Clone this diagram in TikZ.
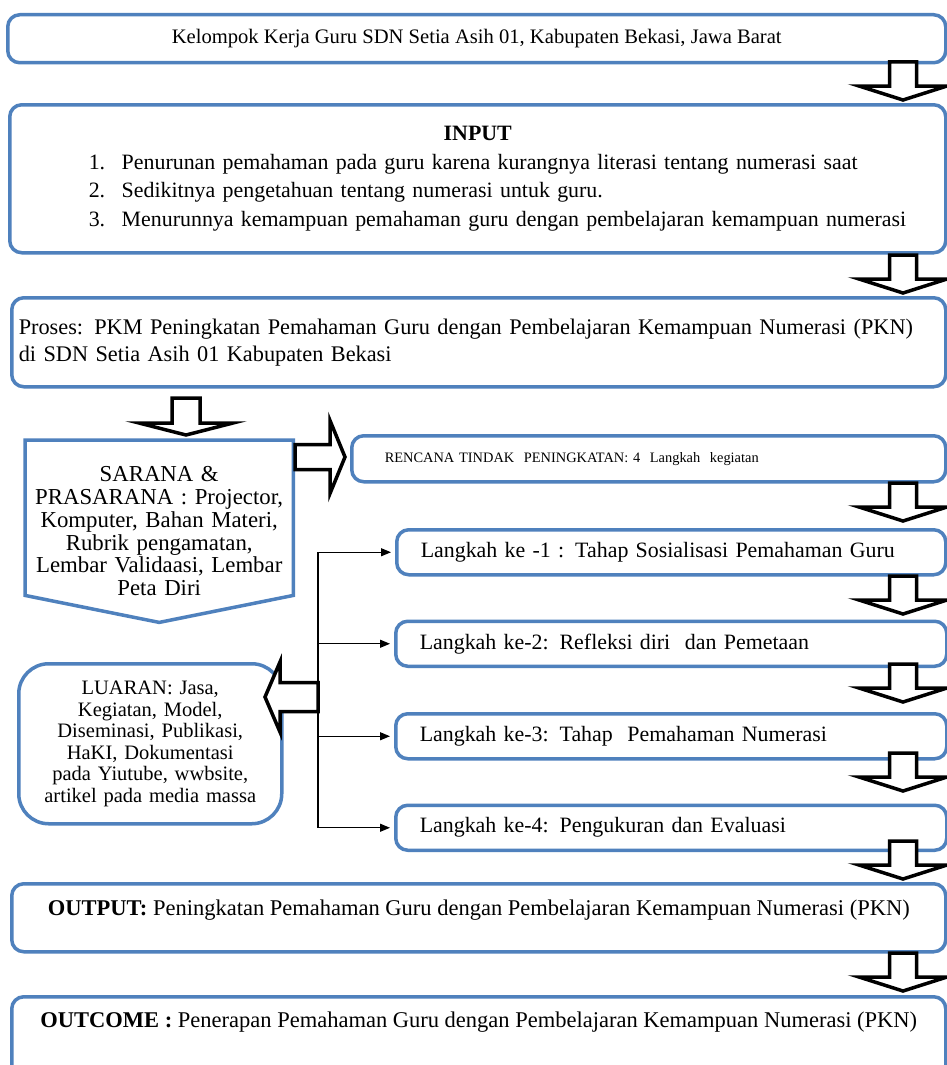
\documentclass[tikz,border=0pt]{standalone}
\usepackage{fontspec}
\setmainfont{Liberation Serif}
\usetikzlibrary{
  arrows.meta, % for the Triangle tips of the thin connections
  positioning, % for stacking the Langkah boxes
  calc, % for the pointed SARANA box
}
\definecolor{boxblue}{RGB}{79,129,189}
\tikzset{
  box/.style={ % style for the blue boxes
    rectangle,draw=boxblue,line width=3.5pt, % thick blue border
    rounded corners=12pt,
    fill=white,
    inner sep=0pt, % sizes are given by minimum width/height
    anchor=north west, % boxes are placed by their top left corner
  },
  stepbox/.style={ % style for the four Langkah boxes
    box,
    minimum width=551pt,minimum height=45pt,
    text width=503pt,inner xsep=24pt,align=left,
    font=\fontsize{21.9}{26}\selectfont,
  },
  arrowline/.style={ % outline of the white block arrows
    draw=black,line width=3.5pt,fill=white,line join=miter,
  },
  % block arrow pointing along x: half shaft, half head, shaft length, head length
  pics/blockarrow/.style n args={4}{code={
    \draw[arrowline] (0,-#1) -- (#3,-#1) -- (#3,-#2) -- (#3+#4,0)
      -- (#3,#2) -- (#3,#1) -- (0,#1) -- cycle;
  }},
  conn/.style={ % style for the thin connections
    -{Triangle[length=10pt,width=8pt]},
    line width=1.2pt,
    shorten >=4pt,
  },
}

\begin{document}
\begin{tikzpicture}[x=1pt,y=-1pt]
  \clip (0,0) rectangle (947,1065);
  \fill[white] (0,0) rectangle (947,1065);

  \node[box,minimum width=938pt,minimum height=48pt,
    font=\fontsize{20.6}{24}\selectfont] (kel) at (6,13)
  {Kelompok Kerja Guru SDN Setia Asih 01, Kabupaten Bekasi, Jawa Barat};

  \node[box,minimum width=936pt,minimum height=148pt,
    text width=900pt,inner xsep=18pt,align=left,
    font=\fontsize{21.9}{28.5}\selectfont] (inp) at (8,103)
  {\makebox[900pt]{\textbf{INPUT}}\\
   \hspace*{61pt}\makebox[33pt][l]{1.}Penurunan pemahaman pada guru karena kurangnya literasi tentang numerasi saat\\
   \hspace*{61pt}\makebox[33pt][l]{2.}Sedikitnya pengetahuan tentang numerasi untuk guru.\\
   \hspace*{61pt}\makebox[33pt][l]{3.}\mbox{Menurunnya kemampuan pemahaman guru dengan pembelajaran kemampuan numerasi}};

  \node[box,minimum width=934pt,minimum height=89pt,
    text width=920pt,inner xsep=7pt,align=left,
    font=\fontsize{22.3}{27}\selectfont] (pro) at (10,296)
  {\mbox{Proses: PKM Peningkatan Pemahaman Guru dengan Pembelajaran Kemampuan Numerasi (PKN)}\\
   di SDN Setia Asih 01 Kabupaten Bekasi};

  % pointed box for the SARANA & PRASARANA
  \node[anchor=north west,minimum width=268pt,minimum height=182pt,
    text width=260pt,inner sep=0pt,align=center,
    font=\fontsize{22.8}{22.8}\selectfont] (sar) at (25,440)
  {SARANA \&\\ PRASARANA : Projector,\\ Komputer, Bahan Materi,\\
   Rubrik pengamatan,\\ Lembar Validaasi, Lembar\\ Peta Diri};
  \draw[boxblue,line width=3.5pt,line join=miter]
    (sar.north west) -- (sar.north east) -- ($(sar.south east)+(0,-27)$)
    -- (sar.south) -- ($(sar.south west)+(0,-27)$) -- cycle;

  \node[box,minimum width=594pt,minimum height=46pt,
    text width=528pt,inner xsep=33pt,align=left,
    font=\fontsize{14.4}{17}\selectfont] (ren) at (350,434)
  {RENCANA TINDAK\ \ PENINGKATAN: 4\ \ Langkah\ \ kegiatan};

  \node[stepbox,minimum width=549pt,text width=501pt] (l1) at (395,528)
  {Langkah ke -1 : Tahap Sosialisasi Pemahaman Guru};
  \node[stepbox,below=43pt of l1] (l2)
  {Langkah ke-2: Refleksi diri\ \ dan Pemetaan};
  \node[stepbox,below=44pt of l2] (l3)
  {Langkah ke-3: Tahap\ \ Pemahaman Numerasi};
  \node[stepbox,below=43pt of l3] (l4)
  {Langkah ke-4: Pengukuran dan Evaluasi};

  \node[box,rounded corners=30pt,minimum width=263pt,minimum height=160pt,
    text width=250pt,align=center,
    font=\fontsize{20.5}{21.5}\selectfont] (lua) at (17,662)
  {LUARAN: Jasa,\\ Kegiatan, Model,\\ Diseminasi, Publikasi,\\
   HaKI, Dokumentasi\\ pada Yiutube, wwbsite,\\ artikel pada media massa};

  \node[box,minimum width=934pt,minimum height=68pt,text depth=21pt,
    font=\fontsize{22.5}{27}\selectfont] (out) at (10,882)
  {\textbf{OUTPUT:} Peningkatan Pemahaman Guru dengan Pembelajaran Kemampuan Numerasi (PKN)};

  \node[box,minimum width=934pt,minimum height=85pt,text depth=40pt,
    font=\fontsize{22.5}{27}\selectfont] (outc) at (10,995)
  {\textbf{OUTCOME :} Penerapan Pemahaman Guru dengan Pembelajaran Kemampuan Numerasi (PKN)};

  % block arrows
  \pic[rotate=-90] (a1) at (903,62) {blockarrow={13.5}{44}{24}{14}};
  \pic[rotate=-90] (a2) at (903,255) {blockarrow={13.5}{44}{24}{14}};
  \pic[rotate=-90] (a3) at (186,398) {blockarrow={14}{47}{25}{12}};
  \pic (a4) at (295,457) {blockarrow={12.5}{36.5}{35}{15}};
  \pic[rotate=-90] (a5) at (903,483) {blockarrow={13.5}{44}{24}{14}};
  \pic[rotate=-90] (a6) at (903,576) {blockarrow={13.5}{44}{24}{14}};
  \pic[rotate=-90] (a7) at (903,664) {blockarrow={13.5}{44}{24}{14}};
  \pic[rotate=-90] (a8) at (903,753) {blockarrow={13.5}{44}{24}{14}};
  \pic[rotate=-90] (a9) at (903,841) {blockarrow={13.5}{44}{24}{14}};
  \pic[rotate=-90] (a10) at (903,953) {blockarrow={13.5}{44}{24}{14}};

  % bus from the Langkah boxes
  \coordinate (bus) at (318,697);
  \draw[line width=1.2pt] (bus |- l1.west) -- (bus |- l4.west);
  \foreach \n in {l1,l2,l3,l4}
    \draw[conn] (bus |- \n.west) -- (\n.west);
  \pic[rotate=180] (a11) at (bus) {blockarrow={14.5}{35}{38}{15}};
\end{tikzpicture}
\end{document}
